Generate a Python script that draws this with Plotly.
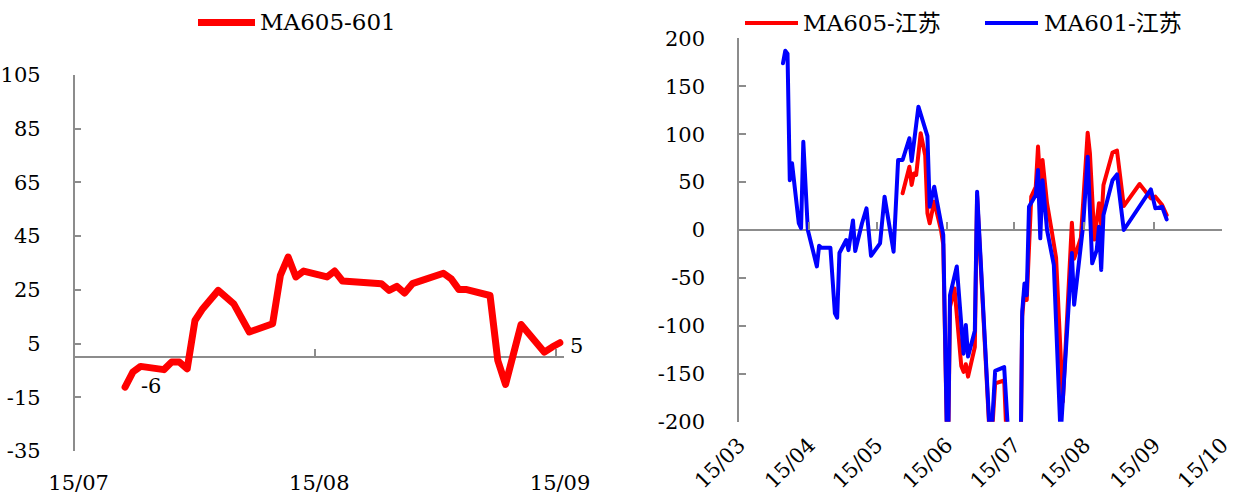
import plotly.graph_objects as go
import pandas as pd

# ---------------- data ----------------
spread_name = "MA605-601"
spread_dates = ["2015-07-07", "2015-07-08", "2015-07-09", "2015-07-12", "2015-07-13", "2015-07-14",
                "2015-07-15", "2015-07-16", "2015-07-17", "2015-07-19", "2015-07-21", "2015-07-23",
                "2015-07-26", "2015-07-27", "2015-07-28", "2015-07-29", "2015-07-30", "2015-08-02",
                "2015-08-03", "2015-08-04", "2015-08-09", "2015-08-10", "2015-08-11", "2015-08-12",
                "2015-08-13", "2015-08-17", "2015-08-18", "2015-08-19", "2015-08-20", "2015-08-23",
                "2015-08-24", "2015-08-25", "2015-08-27", "2015-08-30", "2015-08-31", "2015-09-01"]
spread_values = [-11.2, -5.6, -3.5, -4.7, -1.9, -1.9, -4.4, 13.6, 18.0, 24.8, 19.8, 9.3,
                 12.4, 30.4, 37.2, 29.8, 32.0, 29.8, 32.0, 28.3, 27.3, 24.8, 26.3, 23.8,
                 27.3, 31.2, 29.1, 25.1, 25.1, 22.9, -1.3, -10.2, 12.1, 1.8, 3.7, 5.3]
spread_first_label = "-6"
spread_last_label = "5"

ma605_name = "MA605-江苏"
ma605_dates = ["2015-05-12", "2015-05-15", "2015-05-16", "2015-05-17", "2015-05-18", "2015-05-20",
               "2015-05-22", "2015-05-23", "2015-05-24", "2015-05-26", "2015-05-29", "2015-05-30",
               "2015-06-01", "2015-06-02", "2015-06-04", "2015-06-07", "2015-06-08", "2015-06-09",
               "2015-06-10", "2015-06-13", "2015-06-14", "2015-06-20", "2015-06-22", "2015-06-26",
               "2015-06-28", "2015-06-30", "2015-07-03", "2015-07-04", "2015-07-05", "2015-07-06",
               "2015-07-08", "2015-07-10", "2015-07-11", "2015-07-12", "2015-07-13", "2015-07-15",
               "2015-07-17", "2015-07-19", "2015-07-22", "2015-07-25", "2015-07-26", "2015-07-27",
               "2015-07-30", "2015-08-02", "2015-08-03", "2015-08-05", "2015-08-07", "2015-08-08",
               "2015-08-09", "2015-08-13", "2015-08-15", "2015-08-18", "2015-08-25", "2015-08-30",
               "2015-09-01", "2015-09-04", "2015-09-06"]
ma605_values = [38.3, 66, 47, 59, 57.4, 101,
                78, 17.4, 7, 29.6, 0, -15,
                -260, -80, -61, -142, -148, -140,
                -153, -122, 36, -235, -160, -157,
                -270, -300, -300, -90, -62, -73,
                34.8, 45, 87, 48.7, 73, 27.8,
                0, -29, -179, -26, 7.6, -30,
                -8, 101.5, 80, -10, 27.8, 5,
                47, 80.7, 82.8, 25, 48, 33,
                34.8, 26, 15.6]

ma601_name = "MA601-江苏"
ma601_dates = ["2015-03-20", "2015-03-21", "2015-03-22", "2015-03-23", "2015-03-24", "2015-03-27",
               "2015-03-28", "2015-03-29", "2015-03-31", "2015-04-04", "2015-04-05", "2015-04-06",
               "2015-04-10", "2015-04-12", "2015-04-13", "2015-04-14", "2015-04-17", "2015-04-18",
               "2015-04-20", "2015-04-21", "2015-04-24", "2015-04-26", "2015-04-28", "2015-05-02",
               "2015-05-04", "2015-05-08", "2015-05-10", "2015-05-12", "2015-05-15", "2015-05-16",
               "2015-05-17", "2015-05-19", "2015-05-23", "2015-05-24", "2015-05-26", "2015-05-30",
               "2015-06-01", "2015-06-02", "2015-06-05", "2015-06-07", "2015-06-08", "2015-06-09",
               "2015-06-10", "2015-06-13", "2015-06-14", "2015-06-20", "2015-06-22", "2015-06-26",
               "2015-06-28", "2015-06-30", "2015-07-03", "2015-07-04", "2015-07-05", "2015-07-06",
               "2015-07-07", "2015-07-10", "2015-07-11", "2015-07-12", "2015-07-13", "2015-07-15",
               "2015-07-18", "2015-07-21", "2015-07-26", "2015-07-27", "2015-07-31", "2015-08-02",
               "2015-08-04", "2015-08-06", "2015-08-07", "2015-08-08", "2015-08-09", "2015-08-13",
               "2015-08-15", "2015-08-18", "2015-08-30", "2015-09-01", "2015-09-04", "2015-09-06"]
ma601_values = [174, 187, 184, 52, 69.6, 7,
                1.8, 92, 0, -38, -16.4, -18.5,
                -18.5, -87, -91.5, -24, -10.4, -21,
                10, -22, 7, 22.6, -27, -14,
                34.8, -22.6, 73, 73, 95.7, 72,
                90.5, 128.7, 98, 24.3, 45.2, -5,
                -260, -68, -38, -99, -129, -99,
                -132, -105, 40, -230, -147, -143,
                -266, -300, -300, -85, -55.7, -68,
                24.3, 36.5, 62.6, -8.7, 52, 0,
                -36.5, -215, -24, -78, 5, 76.5,
                -34.8, -21, 3.5, -41.7, 15.6, 52,
                58, 0, 42.4, 22.6, 24.3, 11.1]

left_tick_dates = ["2015-07-01", "2015-08-01", "2015-09-01"]
left_tick_text = ["15/07", "15/08", "15/09"]
left_y_ticks = [-35, -15, 5, 25, 45, 65, 85, 105]
right_tick_dates = ["2015-03-01", "2015-04-01", "2015-05-01", "2015-06-01",
                    "2015-07-01", "2015-08-01", "2015-09-01", "2015-10-01"]
right_tick_text = ["15/03", "15/04", "15/05", "15/06", "15/07", "15/08", "15/09", "15/10"]
right_y_ticks = [-200, -150, -100, -50, 0, 50, 100, 150, 200]

# ---------------- styling / layout ----------------
W, H = 1234, 499
FONT = "DejaVu Serif, Noto Sans CJK SC, serif"
GREY = "#8c8c8c"
RED = "#ff0000"
BLUE = "#0000ff"
TICK_SIZE = 21
LEG_SIZE = 23


def mid_day(dates):
    # Excel date axis: each point is centred in its day slot
    return pd.to_datetime(dates) + pd.Timedelta(hours=12)


def px_x(p):
    return p / W


def px_y(p):
    return 1 - p / H


left_xdom = [px_x(74.6), px_x(563.8)]
left_ydom = [px_y(451), px_y(75)]
right_xdom = [px_x(739), px_x(1222)]
right_ydom = [px_y(421.7), px_y(38.3)]
left_yrange = [-35, 105]
right_yrange = [-200, 200]
left_xrange = ["2015-07-01", "2015-09-02"]
right_xrange = ["2015-03-01", "2015-10-01 00:30"]


def zero_pos(dom, rng):
    return dom[0] + (0 - rng[0]) / (rng[1] - rng[0]) * (dom[1] - dom[0])


fig = go.Figure()
fig.add_trace(go.Scatter(x=mid_day(spread_dates), y=spread_values, mode="lines", name=spread_name,
                         line=dict(color=RED, width=7), xaxis="x", yaxis="y", showlegend=False))
fig.add_trace(go.Scatter(x=mid_day(ma605_dates), y=ma605_values, mode="lines", name=ma605_name,
                         line=dict(color=RED, width=4), xaxis="x2", yaxis="y2", showlegend=False))
fig.add_trace(go.Scatter(x=mid_day(ma601_dates), y=ma601_values, mode="lines", name=ma601_name,
                         line=dict(color=BLUE, width=4), xaxis="x2", yaxis="y2", showlegend=False))
# empty helper traces so that the tick-only axes lying on the zero line are rendered
fig.add_trace(go.Scatter(x=[None], y=[None], mode="lines", xaxis="x3", yaxis="y",
                         showlegend=False, hoverinfo="skip"))
fig.add_trace(go.Scatter(x=[None], y=[None], mode="lines", xaxis="x4", yaxis="y2",
                         showlegend=False, hoverinfo="skip"))

tickfont = dict(family=FONT, size=TICK_SIZE, color="black")
common_x = dict(type="date", showline=False, ticks="", showgrid=False, zeroline=False,
                tickfont=tickfont, automargin=False, ticklabeloverflow="allow")
common_y = dict(showline=True, linecolor=GREY, linewidth=1.5, ticks="inside", ticklen=7,
                tickcolor=GREY, tickwidth=1.5, showgrid=False, zeroline=True, zerolinecolor=GREY,
                zerolinewidth=1.5, tickfont=tickfont, ticklabelstandoff=28, automargin=False)
zero_axis = dict(type="date", anchor="free", showline=False, ticks="inside", ticklen=8,
                 tickcolor=GREY, tickwidth=1.5, showticklabels=False, showgrid=False,
                 zeroline=False, automargin=False)

fig.update_layout(
    width=W, height=H, margin=dict(l=0, r=0, t=0, b=0, pad=0), autosize=False,
    paper_bgcolor="white", plot_bgcolor="white", showlegend=False,
    font=dict(family=FONT, color="black"),
    xaxis=dict(domain=left_xdom, anchor="y", range=left_xrange, tickvals=left_tick_dates,
               ticktext=left_tick_text, ticklabelstandoff=17, ticklabelshift=4, **common_x),
    yaxis=dict(domain=left_ydom, anchor="x", range=left_yrange, tickvals=left_y_ticks,
               ticktext=[str(v) for v in left_y_ticks], **common_y),
    xaxis2=dict(domain=right_xdom, anchor="y2", range=right_xrange, tickvals=right_tick_dates,
                ticktext=right_tick_text, tickangle=-45, ticklabelstandoff=6, **common_x),
    yaxis2=dict(domain=right_ydom, anchor="x2", range=right_yrange, tickvals=right_y_ticks,
                ticktext=[str(v) for v in right_y_ticks], **common_y),
    xaxis3=dict(overlaying="x", range=left_xrange, tickvals=left_tick_dates,
                position=zero_pos(left_ydom, left_yrange), **zero_axis),
    xaxis4=dict(overlaying="x2", range=right_xrange, tickvals=right_tick_dates,
                position=zero_pos(right_ydom, right_yrange), **zero_axis),
)

# end-point labels of the spread line
fig.add_annotation(x=mid_day([spread_dates[0]])[0], y=spread_values[0], xref="x", yref="y",
                   text=spread_first_label, showarrow=False, xshift=26, yshift=1,
                   font=dict(family=FONT, size=TICK_SIZE, color="black"))
fig.add_annotation(x=mid_day([spread_dates[-1]])[0], y=spread_values[-1], xref="x", yref="y",
                   text=spread_last_label, showarrow=False, xshift=17, yshift=-3,
                   font=dict(family=FONT, size=TICK_SIZE, color="black"))

# legends (drawn like the original: long line sample + label)
legend_items = [
    (spread_name, RED, 7, 198, 255, 258, 22.5),
    (ma605_name, RED, 4, 745, 798, 801, 23),
    (ma601_name, BLUE, 4, 985, 1038, 1042, 23),
]
for name, color, width, x0, x1, xt, yc in legend_items:
    fig.add_shape(type="line", xref="paper", yref="paper", x0=px_x(x0), x1=px_x(x1),
                  y0=px_y(yc), y1=px_y(yc), line=dict(color=color, width=width))
    fig.add_annotation(xref="paper", yref="paper", x=px_x(xt), y=px_y(yc), xanchor="left",
                       yanchor="middle", text=name, showarrow=False,
                       font=dict(family=FONT, size=LEG_SIZE, color="black"))

post = ("document.body.style.margin='0px';document.body.style.overflow='hidden';"
        "var gd=document.getElementById('{plot_id}');"
        "gd.querySelectorAll('path.js-line').forEach(function(p){p.style.strokeLinejoin='round';"
        "p.style.strokeLinecap='round';});")
fig.write_html("out.html", post_script=post, config={"displayModeBar": False})
